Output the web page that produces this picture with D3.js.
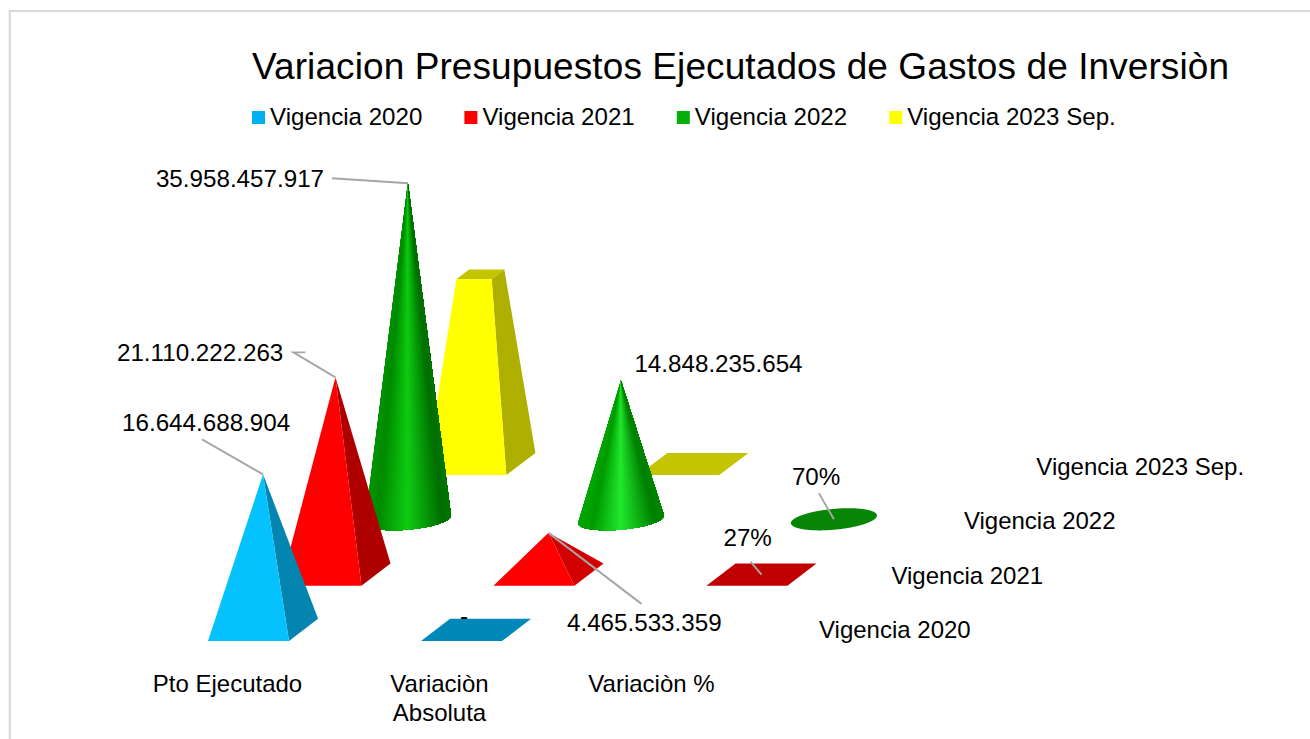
<!DOCTYPE html>
<html>
<head>
<meta charset="utf-8">
<script src="https://cdn.jsdelivr.net/npm/d3@7"></script>
<style>
  html, body { margin: 0; background: #fff; overflow: hidden; }
  text { font-family: "Liberation Sans", Arial, sans-serif; fill: #000; }
</style>
</head>
<body>
<svg id="chart" width="1310" height="739"></svg>
<script>
const chartTitle = "Variacion Presupuestos Ejecutados de Gastos de Inversiòn";
const categories = ["Pto Ejecutado", "Variaciòn Absoluta", "Variaciòn %"];
const seriesNames = ["Vigencia 2020", "Vigencia 2021", "Vigencia 2022", "Vigencia 2023 Sep."];
const shapes = ["pyramid", "pyramid", "cone", "frustum"];

const vigencia2020 = [16644688904, 0, null];
const vigencia2021 = [21110222263, 4465533359, 0.27];
const vigencia2022 = [35958457917, 14848235654, 0.7];
const vigencia2023 = [20300000000, 0, null];
const seriesValues = [vigencia2020, vigencia2021, vigencia2022, vigencia2023];

const labels2020 = ["16.644.688.904", "-", null];
const labels2021 = ["21.110.222.263", "4.465.533.359", "27%"];
const labels2022 = ["35.958.457.917", "14.848.235.654", "70%"];
const seriesLabels = [labels2020, labels2021, labels2022, [null, null, null]];

const legendColors = ["#00B0F0", "#FF0000", "#06AE0B", "#FFFF00"];
const frontColors = ["#05C2FF", "#FF0000", "#0BC80F", "#FFFF00"];
const flatColors = ["#0088B8", "#C00000", "#078507", "#C4C400"];

// shading across the cone, left silhouette to right silhouette
const coneTallShade = d3.scaleLinear()
  .domain([0, 0.14, 0.49, 0.9, 1])
  .range(["#009400", "#008A00", "#0FCB12", "#006E00", "#007800"]);
const coneShortShade = d3.scaleLinear()
  .domain([0, 0.16, 0.49, 0.9, 1])
  .range(["#00A800", "#009A00", "#22E82E", "#007F00", "#008800"]);

const svg = d3.select("#chart");

// frame, runs off the bottom of the picture
svg.append("rect")
  .attr("x", 9.8).attr("y", 11)
  .attr("width", 1320).attr("height", 760)
  .attr("fill", "none")
  .attr("stroke", "#D9D9D9")
  .attr("stroke-width", 2.2);

svg.append("text")
  .attr("x", 252).attr("y", 78.5)
  .attr("font-size", 37)
  .attr("textLength", 977)
  .attr("lengthAdjust", "spacing")
  .text(chartTitle);

const legend = svg.append("g").selectAll("g")
  .data(seriesNames)
  .join("g")
  .attr("transform", (d, i) => `translate(${252 + i * 212.4},111)`);
legend.append("rect")
  .attr("width", 13).attr("height", 13)
  .attr("fill", (d, i) => legendColors[i]);
legend.append("text")
  .attr("x", 18).attr("y", 14)
  .attr("font-size", 24.1)
  .text((d) => d);

// floor coordinates: x along the categories, depth along the series
const xScale = d3.scaleBand()
  .domain(categories)
  .range([208, 715])
  .paddingInner(132 / 213)
  .paddingOuter(0);
const depthScale = d3.scaleBand()
  .domain(seriesNames)
  .range([0, 188.1])
  .paddingInner(33.1 / 55.3)
  .paddingOuter(0);
const heightScale = d3.scaleLinear()
  .domain([0, d3.max(seriesValues.flat())])
  .range([0, 336]);

const floorY = 641;
const slant = 1.31;
function project(x, depth, h = 0) {
  return [x + depth * slant, floorY - depth - h];
}

function footprint(cat, name) {
  const x0 = xScale(cat), d0 = depthScale(name);
  const w = xScale.bandwidth(), d = depthScale.bandwidth();
  return { x0, d0, w, d, cx: x0 + w / 2, cd: d0 + d / 2 };
}

const lineGen = d3.line();
const poly = (pts) => lineGen(pts) + "Z";

function circlePoints(f) {
  return d3.range(0, 360, 1).map((deg) => {
    const a = (deg * Math.PI) / 180;
    return project(f.cx + (Math.cos(a) * f.w) / 2, f.cd + (Math.sin(a) * f.d) / 2);
  });
}

function isFrontArc(p, left, right) {
  const t = (p[0] - left[0]) / (right[0] - left[0]);
  return p[1] >= left[1] + (right[1] - left[1]) * t;
}

function drawCone(g, f, apex, h) {
  const pts = circlePoints(f);
  const left = d3.least(pts, (p) => p[0]);
  const right = d3.greatest(pts, (p) => p[0]);
  const arc = pts
    .filter((p) => isFrontArc(p, left, right))
    .sort((a, b) => a[0] - b[0]);
  const shade = h > 200 ? coneTallShade : coneShortShade;
  // each slice covers the rest of the cone, the next one paints over it, so no seams
  arc.slice(0, -1).forEach((p, k) => {
    const t = (p[0] - left[0]) / (right[0] - left[0]);
    g.append("path")
      .attr("d", poly([apex, ...arc.slice(k)]))
      .attr("fill", shade(t));
  });
}

function drawMark(g, cat, name, i, value) {
  const f = footprint(cat, name);
  const h = heightScale(value);
  const fl = project(f.x0, f.d0), fr = project(f.x0 + f.w, f.d0);
  const bl = project(f.x0, f.d0 + f.d), br = project(f.x0 + f.w, f.d0 + f.d);

  if (h < 2) {
    // no height left: only the footprint shows
    if (shapes[i] === "cone") {
      g.append("path").attr("d", poly(circlePoints(f))).attr("fill", flatColors[i]);
    } else {
      g.append("path").attr("d", poly([fl, fr, br, bl])).attr("fill", flatColors[i]);
    }
    return project(f.cx, f.cd);
  }

  const apex = project(f.cx, f.cd, h);
  if (shapes[i] === "cone") {
    drawCone(g, f, apex, h);
    return apex;
  }

  const side = d3.color(frontColors[i]).darker(h < 60 ? 0.55 : 1.05).formatHex();
  if (shapes[i] === "frustum") {
    // pyramid cut at the height of the series value, its apex sits at the axis max
    const full = heightScale.range()[1];
    const t = h / full;
    const cut = (p, q) => [p[0] + (q[0] - p[0]) * t, p[1] + (q[1] - p[1]) * t];
    const top = project(f.cx, f.cd, full);
    const tfl = cut(fl, top), tfr = cut(fr, top), tbl = cut(bl, top), tbr = cut(br, top);
    g.append("path").attr("d", poly([tfl, tfr, tbr, tbl])).attr("fill", flatColors[i]);
    g.append("path").attr("d", poly([fr, br, tbr, tfr])).attr("fill", "#AFAF00");
    g.append("path").attr("d", poly([fl, fr, tfr, tfl])).attr("fill", frontColors[i]);
    return project(f.cx, f.cd, h);
  }
  g.append("path").attr("d", poly([fr, br, apex])).attr("fill", side);
  g.append("path").attr("d", poly([fl, fr, apex])).attr("fill", frontColors[i]);
  return apex;
}

// back to front, so nearer marks cover the ones behind them
const marks = svg.append("g");
const anchors = {};
categories.forEach((cat, c) => {
  d3.range(seriesNames.length - 1, -1, -1).forEach((i) => {
    const value = seriesValues[i][c];
    if (value === null) return;
    anchors[`${i}-${c}`] = drawMark(marks.append("g"), cat, seriesNames[i], i, value);
  });
});

// leader lines, offsets are from the anchor of each mark
const labelLayout = [
  { key: "0-0", tx: -141, ty: -43, leader: [[-61, -35]] },
  { key: "1-0", tx: -218.5, ty: -16, leader: [[-42, -25], [-30, -25]] },
  { key: "2-0", tx: -252, ty: 4, leader: [[-76, -5]] },
  { key: "1-1", tx: 18.5, ty: 98, leader: [[93, 71]] },
  { key: "2-1", tx: 13.5, ty: -9 },
  { key: "1-2", tx: -38, ty: -29, leader: [[-11, -13]] },
  { key: "2-2", tx: -42, ty: -34, leader: [[-15, -26]] },
  { key: "0-1", tx: -16, ty: -6 },
];

const labelLayer = svg.append("g");
labelLayout.forEach((l) => {
  const [i, c] = l.key.split("-").map(Number);
  const a = anchors[l.key];
  if (l.leader) {
    labelLayer.append("path")
      .attr("d", lineGen([a, ...l.leader.map((o) => [a[0] + o[0], a[1] + o[1]])]))
      .attr("fill", "none")
      .attr("stroke", "#A6A6A6")
      .attr("stroke-width", 1.9);
  }
  labelLayer.append("text")
    .attr("x", a[0] + l.tx)
    .attr("y", a[1] + l.ty)
    .attr("font-size", 24.2)
    .text(seriesLabels[i][c]);
});

// category axis sits left of the bands, the long label wraps on two lines
const catAxis = svg.append("g").selectAll("text")
  .data(categories)
  .join("text")
  .attr("font-size", 24)
  .attr("text-anchor", "middle")
  .attr("y", 692);
catAxis.selectAll("tspan")
  .data((d) => (d.startsWith("Variaciòn A") ? d.split(" ") : [d]))
  .join("tspan")
  .attr("x", function () {
    const cat = d3.select(this.parentNode).datum();
    return xScale(cat) + xScale.bandwidth() / 2 - 21 - categories.indexOf(cat);
  })
  .attr("dy", (d, i) => (i ? 29 : 0))
  .text((d) => d);

// series axis running back along the depth
svg.append("g").selectAll("text")
  .data(seriesNames)
  .join("text")
  .attr("font-size", 24)
  .attr("x", (d) => project(819, depthScale(d))[0])
  .attr("y", (d, i) => project(819, depthScale(d))[1] - 3 + i * 0.8)
  .text((d) => d);
</script>
</body>
</html>
